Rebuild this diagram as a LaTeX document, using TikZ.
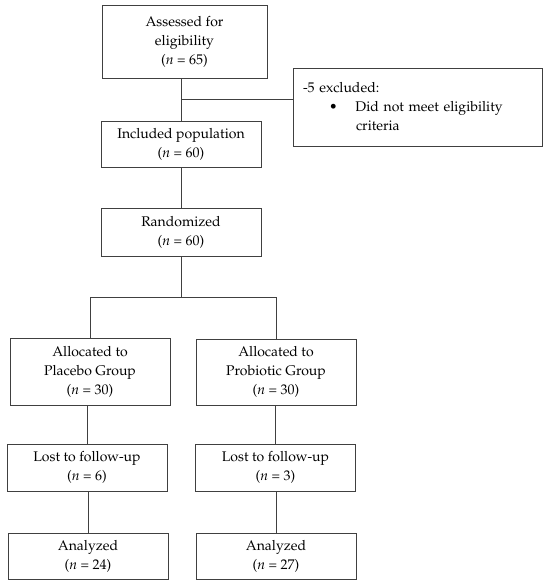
\documentclass[tikz,border=0pt]{standalone}
\usepackage[T1]{fontenc}
\usepackage{mathpazo}
\begin{document}
\begin{tikzpicture}[x=1pt,y=-1pt,
  box/.style={draw=black!75, line width=0.9pt, rectangle, align=center, inner sep=0pt,
    font=\fontsize{14}{19}\selectfont, minimum width=160pt},
  conn/.style={draw=black!75, line width=0.9pt}]
\useasboundingbox (0,0) rectangle (550,586);
\fill[white] (0,0) rectangle (550,586);
\node[box, minimum width=165pt, minimum height=73pt] (ass) at (184.5,41.5)
  {Assessed for\\eligibility\\(\textit{n} = 65)};
\node[box, minimum width=249pt, minimum height=78pt, align=left, text width=229pt] (exc) at (417.5,107)
  {-5 excluded:\\\hspace*{26pt}\textbullet\hspace*{18pt}Did not meet eligibility\\\hspace*{53pt}criteria};
\node[box, minimum height=46pt] (inc) at (181,144) {Included population\\(\textit{n} = 60)};
\node[box, minimum height=48pt] (ran) at (181,232) {Randomized\\(\textit{n} = 60)};
\node[box, minimum height=67pt] (pla) at (90,371.5) {Allocated to\\Placebo Group\\(\textit{n} = 30)};
\node[box, minimum height=66pt] (pro) at (276,372) {Allocated to\\Probiotic Group\\(\textit{n} = 30)};
\node[box, minimum height=47pt] (lpl) at (87,467.5) {Lost to follow-up\\(\textit{n} = 6)};
\node[box, minimum height=47pt] (lpr) at (275.5,467.5) {Lost to follow-up\\(\textit{n} = 3)};
\node[box, minimum height=46pt] (apl) at (88,556) {Analyzed\\(\textit{n} = 24)};
\node[box, minimum height=46pt] (apr) at (276,556) {Analyzed\\(\textit{n} = 27)};
\coordinate (j1) at (181,99);
\coordinate (sp) at (181,297);
\draw[conn] (ass.south -| inc.north) -- (inc.north);
\draw[conn] (j1) -- (exc.west |- j1);
\draw[conn] (inc.south) -- (ran.north);
\draw[conn] (ran.south) -- (sp);
\draw[conn] (pla.north) -- (pla.north |- sp) -- (pro.north |- sp) -- (pro.north);
\draw[conn] (pla.south -| lpl.north) -- (lpl.north);
\draw[conn] (pro.south -| lpr.north) -- (lpr.north);
\draw[conn] (lpl.south -| apl.north) -- (apl.north);
\draw[conn] (lpr.south -| apr.north) -- (apr.north);
\end{tikzpicture}
\end{document}
